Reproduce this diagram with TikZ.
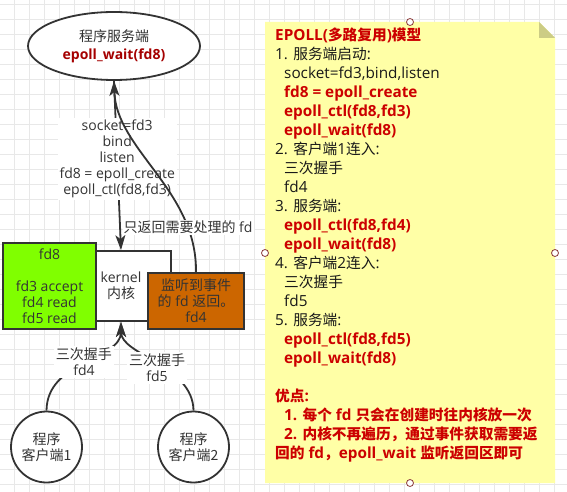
\documentclass[tikz,border=0pt]{standalone}
\usepackage{fontspec}
\setmainfont{Open Sans}
\newfontfamily\zhfam{Noto Sans CJK SC}
\newfontfamily\zhnfam{Noto Sans CJK SC}[Scale=0.96]
\let\zhcur\zhfam
\newcommand{\zh}[1]{{\zhcur #1}}
\usetikzlibrary{shapes.geometric,arrows.meta}
\definecolor{stk}{HTML}{333333}
\definecolor{txt}{HTML}{333333}
\definecolor{gridc}{HTML}{E8E8E8}
\definecolor{lime}{HTML}{80FF00}
\definecolor{orng}{HTML}{CC6600}
\definecolor{dred}{HTML}{A50000}
\definecolor{nred}{HTML}{CC0000}
\definecolor{notefill}{HTML}{FFFFA6}
\definecolor{foldc}{HTML}{CCCC85}
\definecolor{handle}{HTML}{8B3A3A}
\tikzset{
  shp/.style={draw=stk, line width=1.8pt, text=txt, align=center, font=\fontsize{14}{16}\selectfont},
  ell/.style={shp, ellipse, fill=white, minimum width=172pt, minimum height=68pt, inner sep=0pt},
  boxk/.style={shp, rectangle, fill=white, minimum width=100pt, minimum height=70pt, inner sep=0pt},
  circ/.style={shp, circle, fill=white, minimum size=71pt, inner sep=0pt},
  arr/.style={draw=stk, line width=1.8pt, -{Stealth[length=15pt,width=10pt,inset=4pt]}},
  lbl/.style={fill=white, inner sep=2pt, align=center, text=txt, font=\fontsize{14}{16}\selectfont},
  notetxt/.style={inner sep=0pt, align=left, text=black!90, font={\fontsize{15.3}{19}\selectfont\let\zhcur\zhnfam}},
  hdl/.style={draw=handle, fill=white, line width=0.8pt},
}
\newcommand{\rb}[1]{{\bfseries\color{nred}#1}}
\newcommand{\ind}{\hspace*{9pt}}
\begin{document}
\begin{tikzpicture}[x=1pt,y=-1pt]
\useasboundingbox (0,0) rectangle (567,492);
\fill[white] (0,0) rectangle (567,492);
% grid
\foreach \i in {0,...,37} \draw[gridc, line width=0.8pt] ({14.3+15*\i},0) -- ({14.3+15*\i},492);
\foreach \i in {0,...,32} \draw[gridc, line width=0.8pt] (0,{4.3+15*\i}) -- (567,{4.3+15*\i});

% note
\fill[notefill] (265,22) -- (539,22) -- (555,38) -- (555,483) -- (265,483) -- cycle;
\fill[foldc] (539,22) -- (539,38) -- (555,38) -- cycle;
\node[notetxt, anchor=north west] (nt) at (275,28) {%
\rb{EPOLL(\zh{多路复用})\zh{模型}}\\
1. \zh{服务端启动}:\\
\ind socket=fd3,bind,listen\\
\ind\rb{fd8 = epoll\_create}\\
\ind\rb{epoll\_ctl(fd8,fd3)}\\
\ind\rb{epoll\_wait(fd8)}\\
2. \zh{客户端}1\zh{连入}:\\
\ind \zh{三次握手}\\
\ind fd4\\
3. \zh{服务端}:\\
\ind\rb{epoll\_ctl(fd8,fd4)}\\
\ind\rb{epoll\_wait(fd8)}\\
4. \zh{客户端}2\zh{连入}:\\
\ind \zh{三次握手}\\
\ind fd5\\
5. \zh{服务端}:\\
\ind\rb{epoll\_ctl(fd8,fd5)}\\
\ind\rb{epoll\_wait(fd8)}\\
\strut\\
\rb{\zh{优点}:}\\
\ind\rb{1. \zh{每个} fd \zh{只会在创建时往内核放一次}}\\
\ind\rb{2. \zh{内核不再遍历，通过事件获取需要返}}\\
\rb{\zh{回的} fd\zh{，}epoll\_wait \zh{监听返回区即可}}};
% handles
\draw[hdl] (410,22) circle (3.5pt);
\draw[hdl] (410,483) circle (3.5pt);
\draw[hdl] (265,253) circle (3.5pt);
\draw[hdl] (555,253) circle (3.5pt);

% left diagram
\node[ell] (srv) at (114,46) {\zh{程序服务端}\\[2pt]{\bfseries\color{dred}epoll\_wait(fd8)}};
\node[boxk] (kernel) at (121,286) {kernel\\\zh{内核}};
\node[shp, rectangle, fill=lime, minimum width=93pt, minimum height=86pt, inner sep=0pt] (green) at (49.5,286) {fd8\\[16pt]fd3 accept\\fd4 read\\fd5 read};
\node[shp, rectangle, fill=orng, minimum width=96pt, minimum height=56pt, inner sep=0pt] (orange) at (196,301) {\zh{监听到事件}\\\zh{的} fd \zh{返回。}\\fd4};
\node[circ] (c1) at (46.5,447) {\zh{程序}\\\zh{客户端1}};
\node[circ] (c2) at (193.5,447) {\zh{程序}\\\zh{客户端2}};

\draw[arr] (srv.south) -- node[lbl, pos=0.46] (l1) {socket=fd3\\bind\\listen\\fd8 = epoll\_create\\epoll\_ctl(fd8,fd3)} (kernel.north);
\draw[arr] (orange.north) .. controls (197,190) and (116,150) .. node[lbl, pos=0.2, inner sep=1pt] (l2) {\zh{只返回需要处理的} fd} (srv.south);
\draw[arr] (c1.north) .. controls (47,360) and (121,360) .. node[lbl, pos=0.5] (l3) {\zh{三次握手}\\fd4} (kernel.south);
\draw[arr] (c2.north) .. controls (193,365) and (121,355) .. node[lbl, pos=0.5, yshift=-6pt] (l4) {\zh{三次握手}\\fd5} (kernel.south);
\end{tikzpicture}
\end{document}
